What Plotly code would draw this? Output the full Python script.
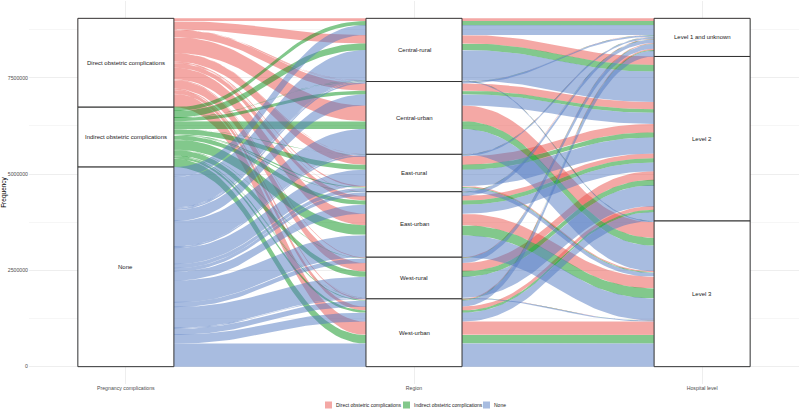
import numpy as np
import plotly.graph_objects as go

# ---------------- data ----------------
comp_labels = ["Direct obstetric complications", "Indirect obstetric complications", "None"]
region_labels = ["Central-rural", "Central-urban", "East-rural", "East-urban", "West-rural", "West-urban"]
level_labels = ["Level 1 and unknown", "Level 2", "Level 3"]
axis_labels = ["Pregnancy complications", "Region", "Hospital level"]
y_tick_values = [0, 2500000, 5000000, 7500000]

# counts: rows = region, columns = hospital level
direct_counts = [
    [70000, 220000, 3000],
    [5000, 190000, 410000],
    [5000, 220000, 30000],
    [10000, 120000, 300000],
    [20000, 220000, 3000],
    [30000, 100000, 350000],
]
indirect_counts = [
    [100000, 170000, 2000],
    [5000, 90000, 200000],
    [5000, 130000, 20000],
    [10000, 110000, 260000],
    [10000, 140000, 2000],
    [20000, 60000, 220000],
]
none_counts = [
    [260000, 790000, 25000],
    [40000, 290000, 660000],
    [40000, 420000, 100000],
    [90000, 230000, 570000],
    [120000, 540000, 25000],
    [150000, 230000, 600000],
]

fill_colors = ["rgba(233,81,75,0.5)", "rgba(5,145,25,0.5)", "rgba(81,121,193,0.5)"]

FONT = "Liberation Sans, Arial, sans-serif"

# ---------------- build alluvia ----------------
count_tables = [direct_counts, indirect_counts, none_counts]
alluvia = []
for c, table in enumerate(count_tables):
    for r, row in enumerate(table):
        for l, v in enumerate(row):
            alluvia.append({"c": c, "r": r, "l": l, "v": float(v)})

total = sum(a["v"] for a in alluvia)

orders = [
    lambda a: (a["c"], a["r"], a["l"]),   # axis 1
    lambda a: (a["r"], a["l"], a["c"]),   # axis 2
    lambda a: (a["l"], a["r"], a["c"]),   # axis 3
]
for ax, key in enumerate(orders):
    cur = total
    for a in sorted(alluvia, key=key):
        a[f"top{ax}"] = cur
        a[f"bot{ax}"] = cur - a["v"]
        cur -= a["v"]

W = 1.0 / 3.0
K = 0.45


def bez(x0, x1, y0, y1, n=40):
    t = np.linspace(0, 1, n)
    g = x1 - x0
    bx = (1 - t) ** 3 * x0 + 3 * (1 - t) ** 2 * t * (x0 + K * g) + 3 * (1 - t) * t ** 2 * (x1 - K * g) + t ** 3 * x1
    by = y0 + (y1 - y0) * (3 * t ** 2 - 2 * t ** 3)
    return list(bx), list(by)


def edge(ys):
    xs_out, ys_out = [1 - W / 2], [ys[0]]
    for ax in range(2):
        bx, by = bez(ax + 1 + W / 2, ax + 2 - W / 2, ys[ax], ys[ax + 1])
        xs_out += bx
        ys_out += by
    xs_out.append(3 + W / 2)
    ys_out.append(ys[2])
    return xs_out, ys_out


fig = go.Figure()
for a in alluvia:
    tx, ty = edge([a["top0"], a["top1"], a["top2"]])
    bx_, by_ = edge([a["bot0"], a["bot1"], a["bot2"]])
    xs = tx + bx_[::-1] + [tx[0]]
    ys = ty + by_[::-1] + [ty[0]]
    fig.add_trace(go.Scatter(
        x=xs, y=ys, mode="lines", fill="toself",
        fillcolor=fill_colors[a["c"]], line=dict(width=0),
        name=comp_labels[a["c"]], hoverinfo="skip", showlegend=False))

# ---------------- strata boxes ----------------
strata_sets = [
    (comp_labels, [sum(sum(row) for row in t) for t in count_tables]),
    (region_labels, [sum(count_tables[c][r][l] for c in range(3) for l in range(3)) for r in range(6)]),
    (level_labels, [sum(count_tables[c][r][l] for c in range(3) for r in range(6)) for l in range(3)]),
]
shapes, annotations = [], []
for ax, (labels, sums) in enumerate(strata_sets):
    cur = total
    for lab, s in zip(labels, sums):
        y1, y0 = cur, cur - s
        shapes.append(dict(type="rect", xref="x", yref="y",
                           x0=ax + 1 - W / 2, x1=ax + 1 + W / 2, y0=y0, y1=y1,
                           fillcolor="white", line=dict(color="#333333", width=1),
                           layer="above"))
        annotations.append(dict(x=ax + 1, y=(y0 + y1) / 2, xref="x", yref="y",
                                text=lab, showarrow=False,
                                font=dict(size=6, color="#1a1a1a", family=FONT)))
        cur = y0

# ---------------- bottom legend (ggplot style: small keys, tight text) ----------------
PL, PW, PB, PH = 29, 770, 384, 383   # plot-area geometry in pixels
key_left_px = [325, 403, 483]
key_size = 7
key_mid_py = 405


def px2x(px):
    return (px - PL) / PW


def py2y(py):
    return (PB - py) / PH


for c, name in enumerate(comp_labels):
    kl = key_left_px[c]
    shapes.append(dict(type="rect", xref="paper", yref="paper",
                       x0=px2x(kl), x1=px2x(kl + key_size),
                       y0=py2y(key_mid_py + key_size / 2), y1=py2y(key_mid_py - key_size / 2),
                       fillcolor=fill_colors[c], line=dict(width=0), layer="above"))
    annotations.append(dict(x=px2x(kl + key_size + 1.5), y=py2y(key_mid_py),
                            xref="paper", yref="paper", xanchor="left", yanchor="middle",
                            text=name, showarrow=False,
                            font=dict(size=5, color="#1a1a1a", family=FONT)))

fig.update_layout(
    width=800, height=411,
    margin=dict(l=29, r=1, t=1, b=27, autoexpand=False),
    paper_bgcolor="white", plot_bgcolor="white",
    shapes=shapes, annotations=annotations,
    font=dict(family=FONT, color="#4d4d4d"),
    showlegend=False,
)
fig.update_xaxes(
    range=[1 - 97 / 288.5, 3 + 97 / 288.5],
    tickmode="array", tickvals=[1, 2, 3], ticktext=axis_labels,
    tickfont=dict(size=5.2, color="#4d4d4d"),
    showgrid=True, gridcolor="#EEEEEE", gridwidth=0.8,
    zeroline=False, showline=False, ticks="", automargin=False,
)
fig.update_yaxes(
    range=[-0.45e6, 9.49e6],
    tickmode="array", tickvals=y_tick_values, ticktext=[str(v) for v in y_tick_values],
    tickfont=dict(size=5.2, color="#4d4d4d"),
    showgrid=True, gridcolor="#EEEEEE", gridwidth=0.8,
    minor=dict(tickmode="linear", tick0=0, dtick=1250000, showgrid=True,
               gridcolor="#F6F6F6", gridwidth=0.6),
    zeroline=False, showline=False, ticks="", automargin=False,
    title=dict(text="Frequency", font=dict(size=6.5, color="#000000"), standoff=4),
)

fig.write_html("out.html", config={"displayModeBar": False},
               post_script="document.body.style.margin='0px';document.body.style.overflow='hidden';")
